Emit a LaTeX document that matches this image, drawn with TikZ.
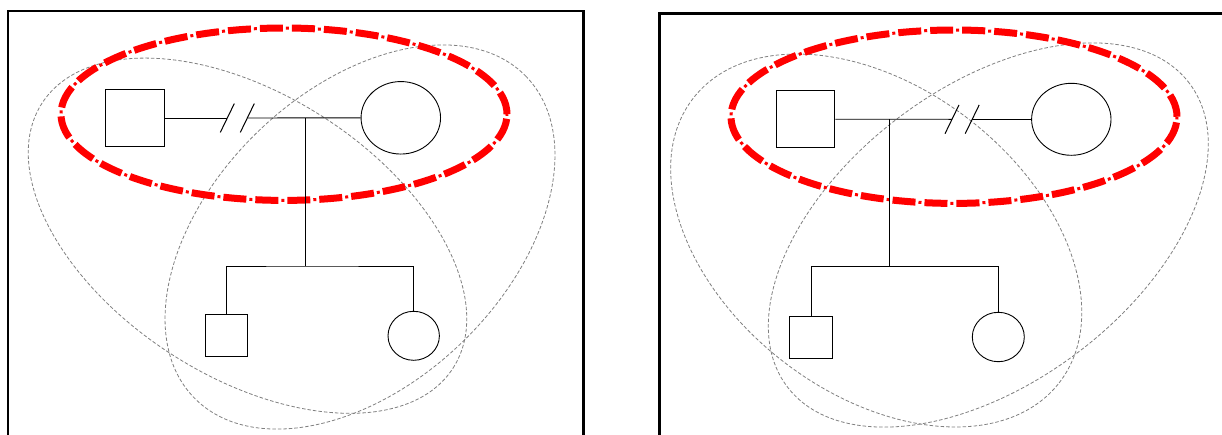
\documentclass[tikz,border=0pt]{standalone}
\usetikzlibrary{calc,shapes.geometric}
\begin{document}
\begin{tikzpicture}[x=1pt,y=-1pt,
  frame/.style={draw=black,line width=2.4pt},
  male/.style={draw=black,rectangle,inner sep=0pt,line width=0.9pt},
  female/.style={draw=black,ellipse,inner sep=0pt,line width=0.9pt},
  link/.style={draw=black,line width=0.9pt},
  breakmark/.style={draw=black,line width=1pt},
  coupledash/.style={draw=red,line width=7pt,dash pattern=on 23pt off 9pt},
  coupledot/.style={draw=red,line width=3pt,dash pattern=on 0pt off 26pt on 3pt off 3pt},
  group/.style={draw=gray,line width=0.8pt,dash pattern=on 3.5pt off 2pt}]

\useasboundingbox (0,0) rectangle (1222,434);
\fill[white] (0,0) rectangle (1222,434);
\clip (0,0) rectangle (1222,434);

% ---------- left family ----------
\draw[frame] (7.8,11) rectangle (583.5,470);

\draw[group,shift={(247.5,235.7)},rotate=-32.8] (0,0) ellipse (244.5pt and 140.8pt);
\draw[group,shift={(360,237)},rotate=44] (0,0) ellipse (231pt and 146.7pt);
% couple outline: long dashes with small dots between them
\draw[coupledash] (284,114.2) ellipse (223pt and 86.2pt);
\draw[coupledot] (284,114.2) ellipse (223pt and 86.2pt);

\node[male,minimum width=59pt,minimum height=57pt] (fatherA) at (135.2,118) {};
\node[female,minimum width=79.5pt,minimum height=72.5pt] (motherA) at (400.8,117.8) {};
\node[male,minimum width=42.4pt,minimum height=42.4pt] (sonA) at (226.5,335.5) {};
\node[female,minimum width=51.4pt,minimum height=49pt] (daughterA) at (413.7,335.8) {};

\coordinate (brkLA) at (227.3,118);
\coordinate (brkRA) at (247.3,118);
\coordinate (midA) at (305,118);
\coordinate (sibA) at (305,266);

\draw[link] (fatherA.east) -- (brkLA);
\draw[link] (brkRA) -- (motherA.west);
\draw[breakmark] ($(brkLA)+(-7,14.4)$) -- ($(brkLA)+(7,-14.4)$);
\draw[breakmark] ($(brkRA)+(-7,14.4)$) -- ($(brkRA)+(7,-14.4)$);
\draw[link] (midA) -- (sibA);
\draw[link] (sonA.north) |- (sibA) -| (daughterA.north);

% ---------- right family ----------
\draw[frame] (659.5,13.3) rectangle (1240,470);

\draw[group,shift={(876.2,240.5)},rotate=-37.9] (0,0) ellipse (231.8pt and 152.6pt);
\draw[group,shift={(988.3,235)},rotate=37] (0,0) ellipse (251.9pt and 147.7pt);
\draw[coupledash] (954,116.7) ellipse (223pt and 86.7pt);
\draw[coupledot] (954,116.7) ellipse (223pt and 86.7pt);

\node[male,minimum width=58.4pt,minimum height=57pt] (fatherB) at (805.6,119.2) {};
\node[female,minimum width=79.4pt,minimum height=72pt] (motherB) at (1071.3,119.3) {};
\node[male,minimum width=42.6pt,minimum height=42pt] (sonB) at (811,337) {};
\node[female,minimum width=52pt,minimum height=49.4pt] (daughterB) at (998.3,337) {};

\coordinate (brkLB) at (952,119.3);
\coordinate (brkRB) at (972.2,119.3);
\coordinate (midB) at (889,119.3);
\coordinate (sibB) at (889,266.7);

\draw[link] (fatherB.east) -- (brkLB);
\draw[link] (brkRB) -- (motherB.west);
\draw[breakmark] ($(brkLB)+(-7,14.4)$) -- ($(brkLB)+(7,-14.4)$);
\draw[breakmark] ($(brkRB)+(-7,14.4)$) -- ($(brkRB)+(7,-14.4)$);
\draw[link] (midB) -- (sibB);
\draw[link] (sonB.north) |- (sibB) -| (daughterB.north);

\end{tikzpicture}
\end{document}
